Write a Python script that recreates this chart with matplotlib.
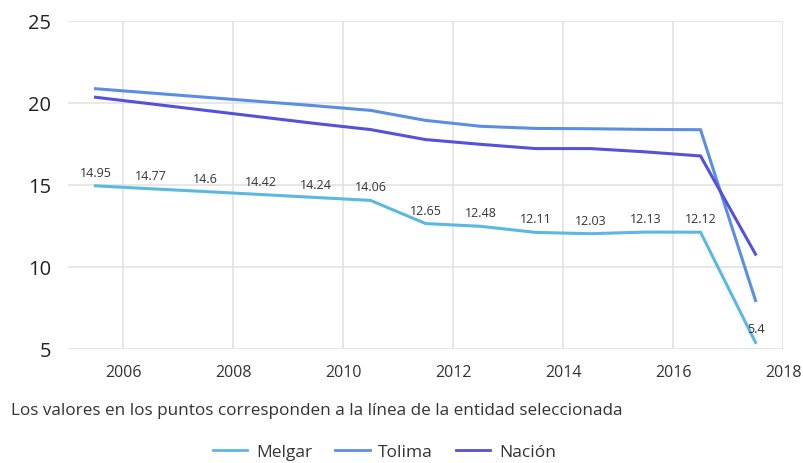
import numpy as np
import matplotlib.pyplot as plt
from matplotlib.lines import Line2D

plt.rcParams['font.family'] = ['Open Sans', 'DejaVu Sans']

# Datos (puntos a mitad de cada año)
years = np.arange(2005, 2018) + 0.5
melgar = [14.95, 14.77, 14.6, 14.42, 14.24, 14.06, 12.65, 12.48, 12.11, 12.03, 12.13, 12.12, 5.4]
tolima = [20.87, 20.61, 20.35, 20.09, 19.83, 19.55, 18.94, 18.58, 18.45, 18.43, 18.39, 18.37, 7.96]
nacion = [20.35, 19.95, 19.55, 19.15, 18.75, 18.38, 17.77, 17.48, 17.22, 17.22, 17.02, 16.77, 10.78]
series_names = ['Melgar', 'Tolima', 'Nación']
colors = ['#5BB8E3', '#5A8EE3', '#5452D8']

fig = plt.figure(figsize=(8.04, 4.64), dpi=100)
ax = fig.add_axes([0.0846, 0.2457, 0.8893, 0.7069])

for vals, c in zip([melgar, tolima, nacion], colors):
    ax.plot(years, vals, color=c, linewidth=2.2, solid_joinstyle='miter')

# etiquetas de la entidad seleccionada
for x, v in zip(years, melgar):
    ax.annotate('{:g}'.format(v), (x, v), xytext=(0, 5), textcoords='offset points',
                ha='center', va='bottom', fontsize=9, color='#333333')

ax.set_xlim(2005, 2018)
ax.set_ylim(5, 25)
ax.set_xticks(np.arange(2006, 2019, 2))
ax.set_yticks([5, 10, 15, 20, 25])
ax.grid(True, color='#e3e3e3', linewidth=1.2)
ax.set_axisbelow(True)
for s in ax.spines.values():
    s.set_visible(False)
ax.tick_params(axis='both', length=0)
ax.tick_params(axis='y', labelsize=14.5, pad=12, labelcolor='#222222')
ax.tick_params(axis='x', labelsize=11.5, pad=11, labelcolor='#333333')

fig.text(0.014, 0.114, 'Los valores en los puntos corresponden a la línea de la entidad seleccionada',
         fontsize=12.3, color='#333333', va='center')

handles = [Line2D([], [], color=c, linewidth=2) for c in colors]
fig.legend(handles, series_names, loc='center', bbox_to_anchor=(0.478, 0.024), ncol=3,
           frameon=False, fontsize=12.5, handlelength=2.0, columnspacing=1.3,
           handletextpad=0.5, labelcolor='#333333')

plt.savefig('out.png', dpi=100)
